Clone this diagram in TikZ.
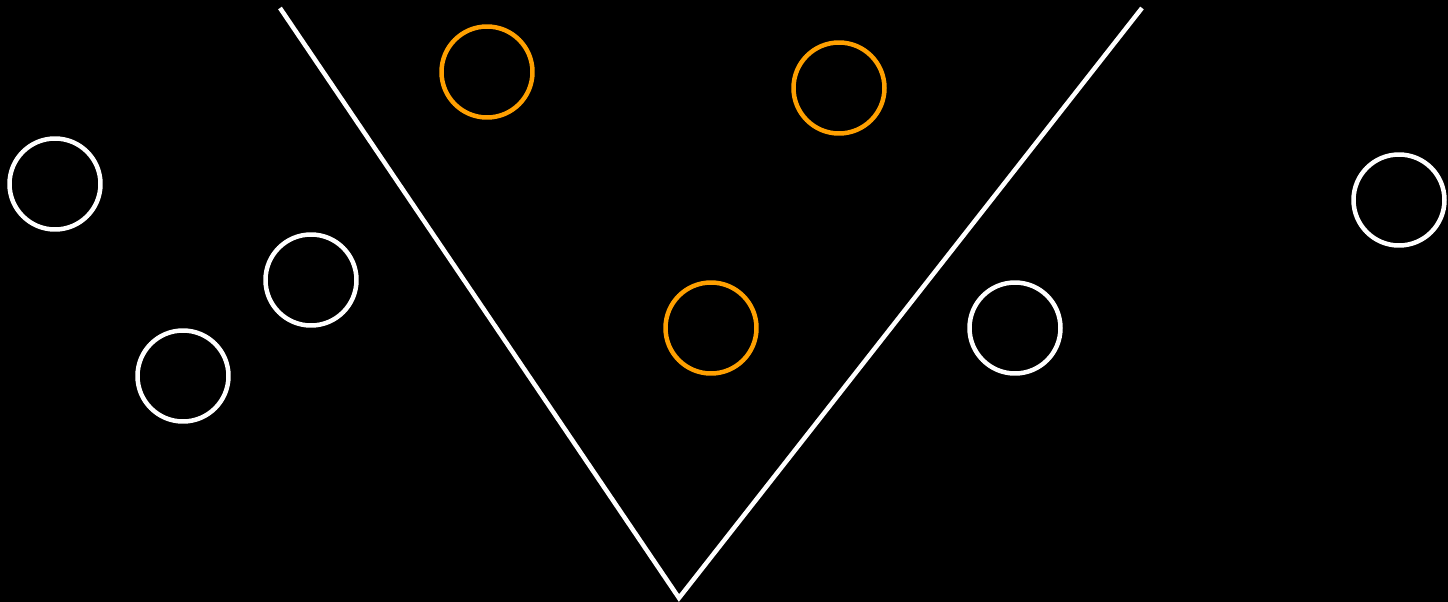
\documentclass[tikz,border=0pt]{standalone}
\usepackage{tikz}
\definecolor{ballorange}{RGB}{255,160,0}
\tikzset{
  ball/.style={circle,draw=white,line width=0.09cm,minimum size=1.82cm,inner sep=0pt},
  hotball/.style={ball,draw=ballorange},
}

\begin{document}
\begin{tikzpicture}[x=0.02cm,y=-0.02cm]
\fill[black] (0,0) rectangle (1448,602);
\useasboundingbox (0,0) rectangle (1448,602);
\coordinate (vl) at (280,8);
\coordinate (vb) at (679,598);
\coordinate (vr) at (1142,8);
\draw[white,line width=0.09cm] (vl) -- (vb) -- (vr);
\foreach \nm/\xx/\yy in {wa/55/184,wb/311/280,wc/183/376,wd/1015/328,we/1399/200} {\node[ball] (\nm) at (\xx,\yy) {};}
\foreach \nm/\xx/\yy in {oa/487/72,ob/839/88,oc/711/328} {\node[hotball] (\nm) at (\xx,\yy) {};}
\end{tikzpicture}
\end{document}
